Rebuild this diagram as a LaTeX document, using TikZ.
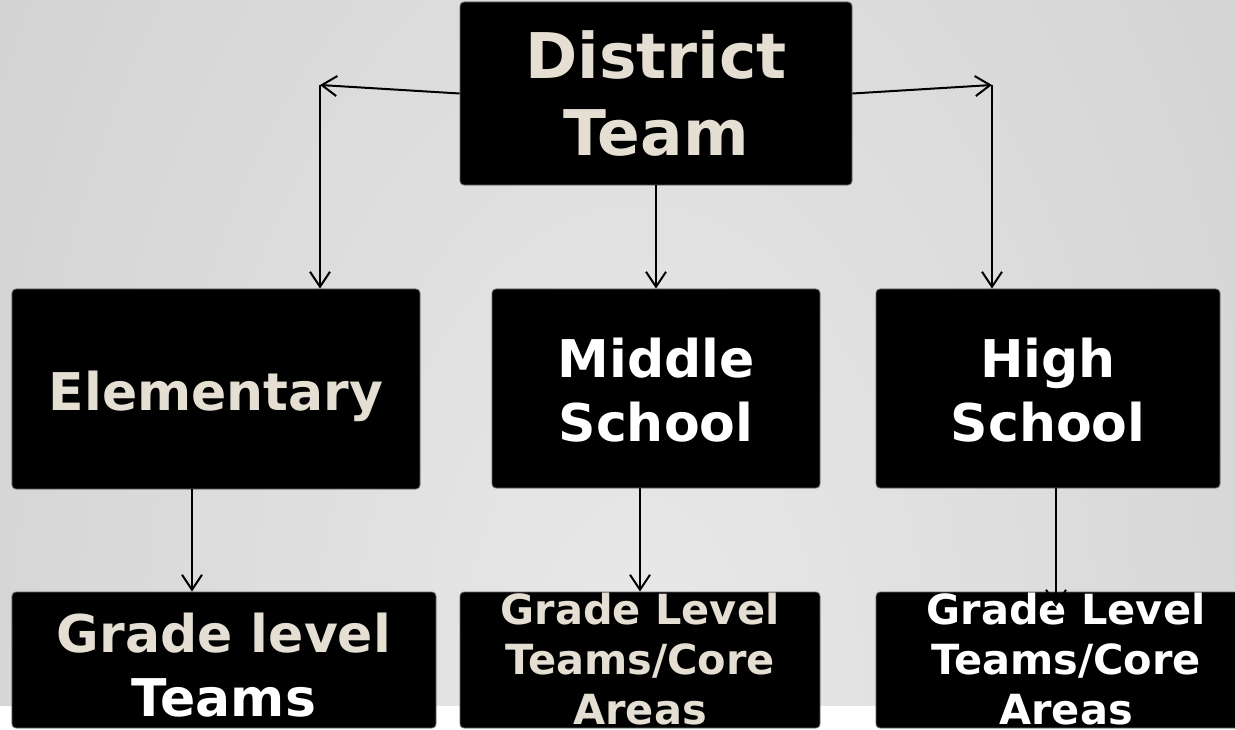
\documentclass[tikz,border=0pt]{standalone}
\usepackage{fontspec}
\setmainfont{DejaVu Sans}
\usetikzlibrary{arrows.meta,positioning}

\definecolor{cream}{RGB}{228,222,211}
\definecolor{bgdark}{RGB}{192,192,192}
\definecolor{bglight}{RGB}{233,233,233}

\begin{document}
\begin{tikzpicture}[x=1bp, y=-1bp, >={Straight Barb[length=15bp,width=20bp]},
    box/.style={draw=black!60, fill=black, rounded corners=4bp, line width=0.8bp, inner sep=0pt},
    txtlarge/.style={font=\bfseries\fontsize{63bp}{77bp}\selectfont, align=center, inner sep=0pt},
    txtmedium/.style={font=\bfseries\fontsize{52bp}{64bp}\selectfont, align=center, inner sep=0pt},
    txtsmall/.style={font=\bfseries\fontsize{41.5bp}{50bp}\selectfont, align=center, inner sep=0pt},
    link/.style={->, line width=2bp}]
    % slide background
    \useasboundingbox (0,0) rectangle (1235,730);
    \fill[white] (0,0) rectangle (1235,730);
    \begin{scope}
      \clip (0,0) rectangle (1235,705);
      \shade[inner color=bglight, outer color=bgdark] (640,700) ellipse (1400 and 2400);
    \end{scope}

    % boxes
    \node[box, minimum width=392bp, minimum height=183bp] (dist) at (656,93.5) {};
    \node[box, minimum width=408bp, minimum height=200bp] (elem) at (216,389) {};
    \node[box, minimum width=328bp, minimum height=199bp] (mid) at (656,388.5) {};
    \node[box, minimum width=344bp, minimum height=199bp] (high) at (1048,388.5) {};
    \node[box, minimum width=424bp, minimum height=136bp] (elemteams) at (224,660) {};
    \node[box, minimum width=360bp, minimum height=136bp] (midteams) at (640,660) {};
    \node[box, minimum width=380bp, minimum height=136bp] (highteams) at (1066,660) {};

    % labels
    \node[txtlarge, text=cream] (disttxt) at (dist) {District\\Team};
    \node[txtmedium, text=cream, yshift=-7bp] (elemtxt) at (elem) {Elementary};
    \node[txtmedium, text=white, yshift=-1.5bp] (midtxt) at (mid) {Middle\\School};
    \node[txtmedium, text=white, yshift=-1.5bp] (hightxt) at (high) {High\\School};
    \node[txtmedium, text=white, yshift=-5bp] (elemteamstxt) at (elemteams) {{\color{cream}Grade level}\\Teams};
    \node[txtsmall, text=cream, yshift=1bp] (midteamstxt) at (midteams) {Grade Level\\Teams/Core\\Areas};
    \node[txtsmall, text=white, yshift=1bp] (highteamstxt) at (highteams) {Grade Level\\Teams/Core\\Areas};

    % connectors
    \coordinate (lcorner) at (320,85);
    \coordinate (rcorner) at (992,85);
    \draw[link] (dist.west) -- (lcorner);
    \draw[link] (lcorner) -- (lcorner |- elem.north);
    \draw[link] (dist.east) -- (rcorner);
    \draw[link] (rcorner) -- (rcorner |- high.north);
    \draw[link] (dist.south) -- (mid.north);
    \draw[link] ([xshift=-24bp]elem.south) -- ([xshift=-24bp]elem.south |- elemteams.north);
    \draw[link] ([xshift=-16bp]mid.south) -- ([xshift=-16bp]mid.south |- midteams.north);
    \draw[link] ([xshift=8bp]high.south) -- ([xshift=8bp, yshift=-15bp]high.south |- highteams.north);
\end{tikzpicture}
\end{document}
